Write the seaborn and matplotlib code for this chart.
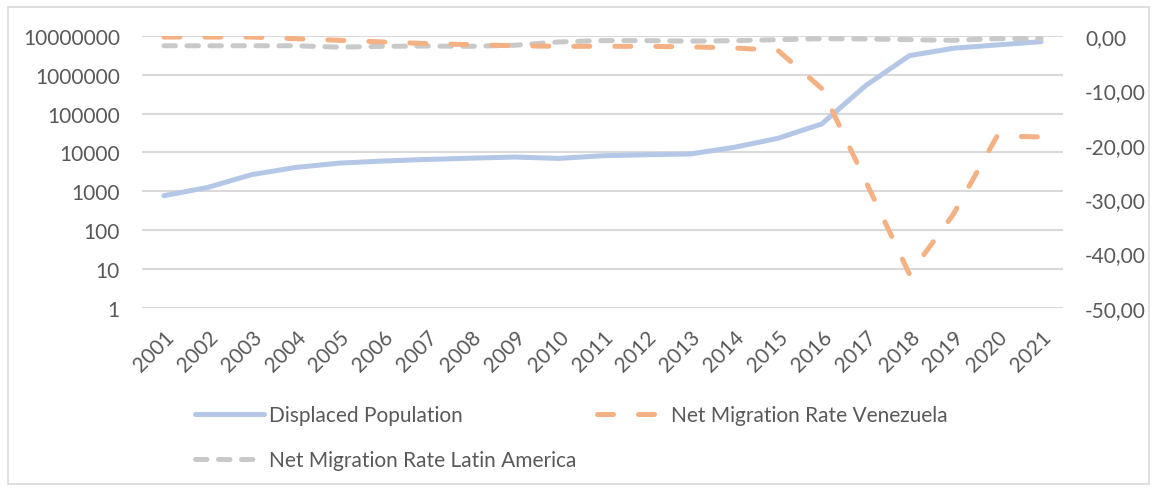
import matplotlib
matplotlib.use("Agg")
import matplotlib.pyplot as plt
import seaborn as sns
from matplotlib.ticker import FixedLocator, FuncFormatter
from matplotlib.lines import Line2D
from matplotlib.patches import Rectangle

years = list(range(2001, 2022))
displaced = [770, 1260, 2680, 4100, 5300, 6000, 6600, 7100, 7600, 7000, 8200,
             8700, 9100, 13500, 23000, 54000, 520000, 3080000, 4750000, 5800000, 7000000]
net_ven = [-0.25, -0.25, -0.25, -0.55, -0.85, -1.15, -1.45, -1.65, -1.85, -1.95, -1.95,
           -1.95, -2.05, -2.25, -2.7, -9.7, -26.7, -43.8, -32.8, -18.4, -18.6]
net_latam = [-1.85, -1.85, -1.85, -1.85, -2.1, -1.95, -1.9, -1.95, -1.75, -1.15, -0.9,
             -0.9, -1.0, -0.92, -0.73, -0.55, -0.6, -0.73, -0.85, -0.55, -0.5]
left_ticks = [1, 10, 100, 1000, 10000, 100000, 1000000, 10000000]
right_ticks = [-50, -40, -30, -20, -10, 0]
labels = ["Displaced Population", "Net Migration Rate Venezuela", "Net Migration Rate Latin America"]

C_BLUE = "#B4C7E7"
C_ORANGE = "#F4B183"
C_GRAY = "#C9C9C9"
C_GRID = "#D9D9D9"
C_TEXT = "#595959"

sns.set_theme(style="white")
plt.rcParams["font.family"] = ["Lato", "DejaVu Sans"]
FS = 15

W, H = 1153, 489
fig = plt.figure(figsize=(W / 100, H / 100), dpi=100)
ax = fig.add_axes([142 / W, 1 - 309 / H, (1063 - 142) / W, (309 - 36.7) / H])
ax2 = ax.twinx()

LW = 3.6
sns.lineplot(x=years, y=displaced, ax=ax, color=C_BLUE, lw=LW, legend=False)
sns.lineplot(x=years, y=net_ven, ax=ax2, color=C_ORANGE, lw=LW, legend=False)
sns.lineplot(x=years, y=net_latam, ax=ax2, color=C_GRAY, lw=LW, legend=False)

blue_line = ax.lines[0]
ven_line, lat_line = ax2.lines[0], ax2.lines[1]
for ln in (blue_line, ven_line, lat_line):
    ln.set_solid_capstyle("round")
    ln.set_dash_capstyle("round")
    ln.set_solid_joinstyle("round")
ven_line.set_dashes((3.2, 5.0))
lat_line.set_dashes((2.3, 2.3))
ax2.set_zorder(ax.get_zorder() + 1)
ax2.patch.set_visible(False)
lat_line.set_zorder(2)
ven_line.set_zorder(3)

ax.set_yscale("log")
ax.set_ylim(1, 1e7)
ax.yaxis.set_major_locator(FixedLocator(left_ticks))
ax.yaxis.set_minor_locator(FixedLocator([]))
ax.yaxis.set_major_formatter(FuncFormatter(lambda v, p: f"{int(round(v))}"))
ax.set_xlim(2000.5, 2021.5)
ax.set_xticks(years)
ax.set_xticklabels([str(y) for y in years], rotation=45, ha="right", rotation_mode="anchor")

ax2.set_ylim(-50, 0)
ax2.yaxis.set_major_locator(FixedLocator(right_ticks))
ax2.yaxis.set_major_formatter(FuncFormatter(lambda v, p: f"{v:.2f}".replace(".", ",")))

ax.grid(True, axis="y", color=C_GRID, lw=1.5)
ax.grid(False, axis="x")
ax2.grid(False)
for a in (ax, ax2):
    for s in a.spines.values():
        s.set_visible(False)
    a.tick_params(length=0, colors=C_TEXT, labelsize=FS)
ax.tick_params(axis="y", pad=16)
ax.tick_params(axis="x", pad=13)
ax2.tick_params(axis="y", pad=16)
ax.set_xlabel("")
ax.set_ylabel("")
ax2.set_ylabel("")

h_disp = Line2D([], [], color=C_BLUE, lw=LW, solid_capstyle="round")
h_ven = Line2D([], [], color=C_ORANGE, lw=LW, dash_capstyle="round", dashes=(3.2, 5.0))
h_lat = Line2D([], [], color=C_GRAY, lw=LW, dash_capstyle="round", dashes=(2.3, 2.3))
leg = fig.legend(handles=[h_disp, h_lat, h_ven], labels=[labels[0], labels[2], labels[1]],
                 ncol=2, loc="upper left", bbox_to_anchor=(195 / W, 1 - 406 / H),
                 frameon=False, fontsize=FS, handlelength=3.3, handletextpad=0.25,
                 labelspacing=1.2, columnspacing=1.0, borderpad=0, borderaxespad=0)
for t in leg.get_texts():
    t.set_color(C_TEXT)

fig.patches.append(Rectangle((8 / W, 1 - 485 / H), (1149 - 8) / W, (485 - 8) / H,
                             transform=fig.transFigure, fill=False, ec=C_GRID, lw=1.2))

fig.savefig("out.png", dpi=100)
